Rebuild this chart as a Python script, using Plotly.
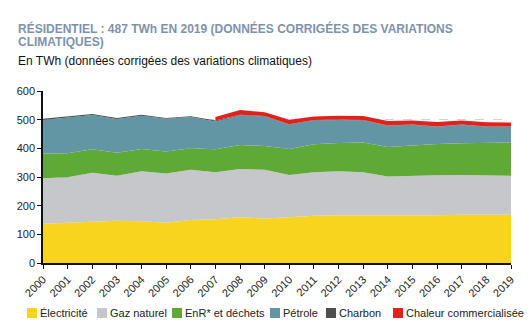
import numpy as np
import plotly.graph_objects as go

years = list(range(2000, 2020))
electricite = [137, 141, 145, 147, 146, 140, 150, 153, 160, 155, 160, 165, 167, 167, 165, 166, 167, 168, 168, 168]
gaz_naturel = [159, 158, 170, 157, 174, 172, 175, 164, 168, 170, 147, 152, 153, 150, 137, 139, 139, 139, 137, 136]
enr_dechets = [86, 84, 82, 81, 78, 77, 75, 80, 84, 83, 91, 97, 99, 103, 103, 106, 109, 111, 113, 116]
petrole = [117, 125, 119, 117, 116, 114, 109, 97, 103, 103, 84, 83, 80, 77, 74, 71, 60, 64, 57, 55]
charbon = [4, 4, 4, 4, 3, 3, 3, 3, 2, 2, 2, 2, 2, 2, 1, 1, 1, 1, 1, 1]
chaleur_years = list(range(2007, 2020))
chaleur = [12, 17, 13, 16, 12, 13, 14, 15, 14, 16, 14, 15, 14]

names = ["Électricité", "Gaz naturel", "EnR* et déchets", "Pétrole", "Charbon", "Chaleur commercialisée"]
colors = ["#f9d41f", "#c6c7ca", "#5faa36", "#6396a5", "#4e4e4e", "#e0211c"]

W, H = 528, 326
ML, MR, MT, MB = 43, 17, 91, 63
PW, PH = W - ML - MR, H - MT - MB


def px(x):
    return (x - ML) / PW


def py(y):
    return (H - MB - y) / PH


fig = go.Figure()
series = [electricite, gaz_naturel, enr_dechets, petrole, charbon]
for name, vals, col in zip(names[:5], series, colors[:5]):
    fig.add_trace(go.Scatter(
        x=years, y=vals, name=name, stackgroup="a", mode="lines",
        line=dict(width=0, color=col), fillcolor=col,
    ))

total = np.sum(np.array(series), axis=0)
base = [float(total[years.index(y)]) for y in chaleur_years]
fig.add_trace(go.Scatter(
    x=chaleur_years, y=base, mode="lines", line=dict(width=0),
    showlegend=False, hoverinfo="skip",
))
fig.add_trace(go.Scatter(
    x=chaleur_years, y=[b + c for b, c in zip(base, chaleur)], mode="lines",
    name=names[5], fill="tonexty", fillcolor=colors[5],
    line=dict(width=0, color=colors[5]),
))

fig.update_layout(
    width=W, height=H,
    margin=dict(l=ML, r=MR, t=MT, b=MB),
    paper_bgcolor="white", plot_bgcolor="white",
    font=dict(family="Liberation Sans, Arial, sans-serif", size=11, color="#222"),
    showlegend=False,
)

title_font = dict(size=12, color="#7d92ad", family="Liberation Sans, Arial, sans-serif")
fig.add_annotation(text="<b>RÉSIDENTIEL : 487 TWh EN 2019 (DONNÉES CORRIGÉES DES VARIATIONS</b>",
                   xref="paper", yref="paper", x=px(16), y=py(28.5), xanchor="left",
                   yanchor="middle", showarrow=False, font=title_font)
fig.add_annotation(text="<b>CLIMATIQUES)</b>",
                   xref="paper", yref="paper", x=px(16), y=py(42.5), xanchor="left",
                   yanchor="middle", showarrow=False, font=title_font)
fig.add_annotation(text="En TWh (données corrigées des variations climatiques)",
                   xref="paper", yref="paper", x=px(16), y=py(61), xanchor="left",
                   yanchor="middle", showarrow=False,
                   font=dict(size=12, color="#111", family="Liberation Sans, Arial, sans-serif"))

# custom legend (single row, as in the reference)
leg_sq_x = [27, 97, 172, 270, 326, 393]
leg_y = 313
for name, col, sx in zip(names, colors, leg_sq_x):
    fig.add_shape(type="rect", xref="paper", yref="paper",
                  x0=px(sx), x1=px(sx + 10), y0=py(leg_y + 5), y1=py(leg_y - 5),
                  fillcolor=col, line=dict(width=0))
    fig.add_annotation(text=name, xref="paper", yref="paper", x=px(sx + 11), y=py(leg_y),
                       xanchor="left", yanchor="middle", showarrow=False,
                       font=dict(size=11, color="#222"))

fig.update_xaxes(
    range=[2000, 2019], tickvals=years, ticktext=[str(y) for y in years],
    tickangle=-45, showgrid=False, showline=True, linecolor="#111", linewidth=1.5,
    ticks="outside", ticklen=4, tickcolor="#111", zeroline=False,
    tickfont=dict(size=11, color="#222"),
)
fig.update_yaxes(
    range=[0, 600], dtick=100, showgrid=True, gridcolor="#d2d2d2", griddash="dash",
    gridwidth=1, showline=True, linecolor="#111", linewidth=1.5,
    ticks="outside", ticklen=4, tickcolor="#111", zeroline=False,
    tickfont=dict(size=11, color="#222"),
)

fig.write_html("out.html")
